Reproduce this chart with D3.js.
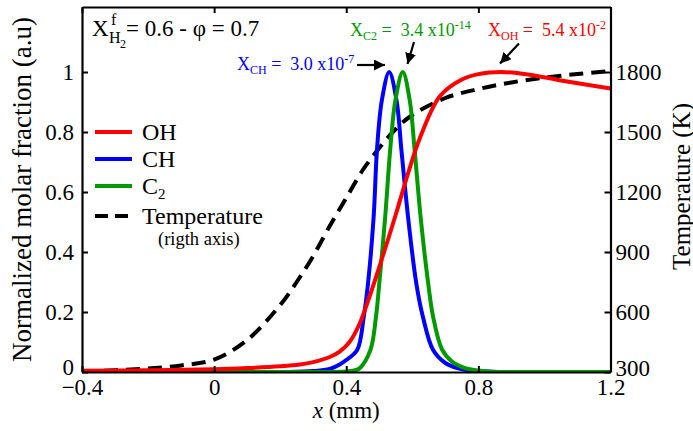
<!DOCTYPE html>
<html><head><meta charset="utf-8">
<script src="https://cdn.jsdelivr.net/npm/d3@7"></script>
<style>
body{margin:0;background:#fff}
svg{display:block}
text{font-family:"Liberation Serif","Times New Roman","DejaVu Serif",serif}
</style>
</head><body>
<svg id="c" width="693" height="431"></svg>
<script>
// ---------- data ----------
const xTicks = [-0.4, 0, 0.4, 0.8, 1.2];
const xTickLabels = ["\u22120.4", "0", "0.4", "0.8", "1.2"];
const yTicks = [0, 0.2, 0.4, 0.6, 0.8, 1];
const yTickLabels = ["0", "0.2", "0.4", "0.6", "0.8", "1"];
const tTicks = [300, 600, 900, 1200, 1500, 1800];
const tTickLabels = ["300", "600", "900", "1200", "1500", "1800"];

// OH (normalized)
const ohX = [-0.4, -0.2, 0, 0.1, 0.2, 0.26, 0.3, 0.35, 0.38, 0.41, 0.44, 0.47, 0.5, 0.55, 0.588, 0.623, 0.684, 0.75, 0.8, 0.87, 0.95, 1.05, 1.2];
const ohY = [0.004, 0.006, 0.009, 0.013, 0.019, 0.025, 0.033, 0.05, 0.068, 0.1, 0.16, 0.25, 0.35, 0.525, 0.665, 0.78, 0.92, 0.975, 0.993, 1.0, 0.992, 0.972, 0.945];

// CH (normalized)
const chX = [-0.4, 0.2, 0.3, 0.35, 0.38, 0.40, 0.433, 0.453, 0.466, 0.483, 0.493, 0.508, 0.53, 0.552, 0.567, 0.587, 0.612, 0.632, 0.663, 0.70, 0.74, 0.78, 0.84, 1.2];
const chY = [0, 0, 0.003, 0.01, 0.025, 0.04, 0.073, 0.184, 0.296, 0.518, 0.74, 0.907, 1.0, 0.907, 0.74, 0.518, 0.296, 0.184, 0.073, 0.03, 0.012, 0.004, 0.001, 0];

// C2 (normalized)
const c2X = [-0.4, 0.3, 0.40, 0.42, 0.44, 0.473, 0.49, 0.50, 0.518, 0.533, 0.549, 0.571, 0.592, 0.607, 0.625, 0.648, 0.663, 0.69, 0.72, 0.76, 0.80, 0.84, 0.9, 1.2];
const c2Y = [0, 0, 0.002, 0.004, 0.012, 0.073, 0.184, 0.296, 0.518, 0.74, 0.907, 1.0, 0.907, 0.74, 0.518, 0.296, 0.184, 0.075, 0.035, 0.013, 0.005, 0.001, 0, 0];

// Temperature (K)
const tX = [-0.4, -0.3, -0.2, -0.1, 0, 0.1, 0.2, 0.25, 0.3, 0.35, 0.4, 0.45, 0.5, 0.55, 0.6, 0.7, 0.8, 0.9, 1.0, 1.1, 1.2];
const tY = [303, 309, 318, 333, 362, 460, 635, 750, 880, 1030, 1170, 1310, 1420, 1515, 1585, 1670, 1715, 1748, 1772, 1790, 1805];

const legendNames = ["OH", "CH", "C2", "Temperature"];
const legendColors = ["#ff0000", "#0000ff", "#009900", "#000000"];

// ---------- layout ----------
const L = 82, R = 610.5, T = 7, B = 372;
const svg = d3.select("#c");
const x = d3.scaleLinear().domain([-0.4, 1.2]).range([L, R]);
const y = d3.scaleLinear().domain([0, 1.2167]).range([B, T]);
const yT = d3.scaleLinear().domain([300, 300 + 1500 * 1.2167]).range([B, T]);

const FS = 23;
const FF = '"Liberation Serif","Times New Roman",serif';

function styleAxis(g, showText) {
  g.attr("font-family", null).attr("font-size", null);
  g.select(".domain").attr("stroke", "#000").attr("stroke-width", 2.2);
  g.selectAll(".tick line").attr("stroke", "#000").attr("stroke-width", 2);
  g.selectAll(".tick text").attr("font-size", FS).style("font-family", FF).attr("fill", "#000");
  if (!showText) g.selectAll(".tick text").remove();
}

// curves (clipped)
svg.append("clipPath").attr("id", "clip").append("rect")
  .attr("x", L).attr("y", T).attr("width", R - L).attr("height", B - T);
const plot = svg.append("g").attr("clip-path", "url(#clip)");

const lineN = d3.line().curve(d3.curveCatmullRom.alpha(0.5));

plot.append("path")
  .attr("d", lineN(tX.map((v, i) => [x(v), yT(tY[i])])))
  .attr("fill", "none").attr("stroke", "#000").attr("stroke-width", 4)
  .attr("stroke-dasharray", "14,8");

plot.append("path")
  .attr("d", lineN(chX.map((v, i) => [x(v), y(chY[i])])))
  .attr("fill", "none").attr("stroke", legendColors[1]).attr("stroke-width", 4);

plot.append("path")
  .attr("d", lineN(c2X.map((v, i) => [x(v), y(c2Y[i])])))
  .attr("fill", "none").attr("stroke", legendColors[2]).attr("stroke-width", 4);

plot.append("path")
  .attr("d", lineN(ohX.map((v, i) => [x(v), y(ohY[i])])))
  .attr("fill", "none").attr("stroke", legendColors[0]).attr("stroke-width", 4);

// axes
const gx = svg.append("g").attr("transform", `translate(0,${B})`)
  .call(d3.axisBottom(x).tickValues(xTicks).tickFormat((d, i) => xTickLabels[i]).tickSize(-6).tickSizeOuter(0).tickPadding(7));
styleAxis(gx, true);
const gxt = svg.append("g").attr("transform", `translate(0,${T})`)
  .call(d3.axisTop(x).tickValues(xTicks).tickSize(-6).tickSizeOuter(0));
styleAxis(gxt, false);
const gy = svg.append("g").attr("transform", `translate(${L},0)`)
  .call(d3.axisLeft(y).tickValues(yTicks).tickFormat((d, i) => yTickLabels[i]).tickSize(-6).tickSizeOuter(0).tickPadding(8));
styleAxis(gy, true);
const gr = svg.append("g").attr("transform", `translate(${R},0)`)
  .call(d3.axisRight(yT).tickValues(tTicks).tickFormat((d, i) => tTickLabels[i]).tickSize(-6).tickSizeOuter(0).tickPadding(5));
styleAxis(gr, true);
// lowest labels sit slightly above the x tick labels
gy.selectAll(".tick text").filter((d, i) => i === 0).attr("y", -5);
gr.selectAll(".tick text").filter((d, i) => i === 0).attr("y", -4);

// axis titles
const xt = svg.append("text").attr("x", (L + R) / 2).attr("y", 418)
  .attr("text-anchor", "middle").attr("font-size", FS);
xt.append("tspan").attr("font-style", "italic").text("x");
xt.append("tspan").text(" (mm)");

svg.append("text").attr("transform", `translate(22,${(T + B) / 2}) rotate(-90)`)
  .attr("text-anchor", "middle").attr("dominant-baseline", "central")
  .attr("font-size", 27).text("Normalized molar fraction (a.u)");

svg.append("text").attr("transform", `translate(681,${(T + B) / 2 - 3}) rotate(-90)`)
  .attr("text-anchor", "middle").attr("dominant-baseline", "central")
  .attr("font-size", 25).text("Temperature (K)");

// top-left condition label
const cond = svg.append("g");
cond.append("text").attr("x", 92).attr("y", 36).attr("font-size", FS).text("X");
cond.append("text").attr("x", 111).attr("y", 25).attr("font-size", 16).text("f");
cond.append("text").attr("x", 109).attr("y", 43).attr("font-size", 16).text("H");
cond.append("text").attr("x", 120).attr("y", 48).attr("font-size", 12).text("2");
cond.append("text").attr("x", 126).attr("y", 36).attr("font-size", FS).text("= 0.6 - \u03c6 = 0.7");

// peak annotations
function annot(xp, yp, color, sub, val, exp) {
  const t = svg.append("text").attr("x", xp).attr("y", yp).attr("fill", color)
    .attr("font-size", 18).style("white-space", "pre");
  t.append("tspan").text("X");
  t.append("tspan").attr("font-size", 12).attr("dy", 4).text(sub);
  t.append("tspan").attr("dy", -4).text(" =  " + val + " x10");
  t.append("tspan").attr("font-size", 12).attr("dy", -7).text(exp);
}
annot(237, 70, "#0000ff", "CH", "3.0", "-7");
annot(350, 36, "#009900", "C2", "3.4", "-14");
annot(488, 36, "#ff0000", "OH", "5.4", "-2");

// arrows
const defs = svg.append("defs");
defs.append("marker").attr("id", "ah").attr("viewBox", "0 0 10 10")
  .attr("refX", 10).attr("refY", 5).attr("markerWidth", 5).attr("markerHeight", 5)
  .attr("markerUnits", "strokeWidth").attr("orient", "auto")
  .append("path").attr("d", "M0,0 L10,5 L0,10 Z").attr("fill", "#000");
const arrows = [
  [357, 65, 385, 65],
  [414, 42, 407.5, 64],
  [519, 43.5, 500, 63.5]
];
svg.selectAll(".arr").data(arrows).enter().append("line")
  .attr("x1", d => d[0]).attr("y1", d => d[1]).attr("x2", d => d[2]).attr("y2", d => d[3])
  .attr("stroke", "#000").attr("stroke-width", 2.2).attr("marker-end", "url(#ah)");

// legend
const legY = [132, 159, 186, 216];
const lg = svg.append("g");
legendNames.forEach((n, i) => {
  lg.append("line").attr("x1", 95).attr("x2", 132).attr("y1", legY[i]).attr("y2", legY[i])
    .attr("stroke", legendColors[i]).attr("stroke-width", 4)
    .attr("stroke-dasharray", i === 3 ? "13,7" : null);
  const t = lg.append("text").attr("x", 142).attr("y", legY[i] + 8).attr("font-size", 24);
  if (n === "C2") {
    t.append("tspan").text("C");
    t.append("tspan").attr("font-size", 15).attr("dy", 5).text("2");
  } else {
    t.text(n);
  }
});
lg.append("text").attr("x", 158).attr("y", 245).attr("font-size", 18.5).text("(rigth axis)");
</script>
</body></html>
